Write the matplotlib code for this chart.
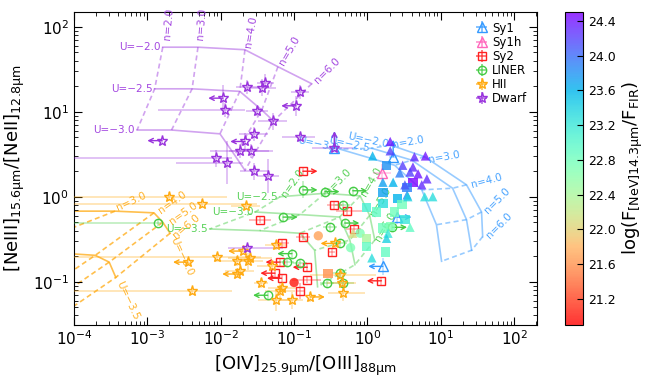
import numpy as np
import matplotlib
matplotlib.use('Agg')
import matplotlib.pyplot as plt
from matplotlib.colors import to_rgba

# ---- photoionisation model grids (log10 of line ratios), rows = U, columns = n
n_names = ['2.0', '3.0', '4.0', '5.0', '6.0']

dwarf_U = ['\u22122.0', '\u22122.5', '\u22123.0']
dwarf_gx = [[-2.79, -2.31, -1.67, -1.22, -0.76],
            [-2.90, -2.39, -1.74, -1.44, -1.28],
            [-3.14, -2.67, -2.01, -1.81, -1.67]]
dwarf_gy = [[1.76, 1.76, 1.73, 1.53, 1.33],
            [1.27, 1.27, 1.24, 1.02, 0.89],
            [0.785, 0.785, 0.74, 0.49, 0.31]]

agn_U = ['\u22122.0', '\u22122.5', '\u22123.0']
agn_gx = [[0.305, 0.78, 1.35, 1.555, 1.57],
          [0.06, 0.605, 1.16, 1.35, 1.42],
          [-0.376, 0.37, 0.74, 0.94, 1.01]]
agn_gy = [[0.61, 0.47, 0.14, -0.18, -0.47],
          [0.57, 0.43, 0.10, -0.27, -0.63],
          [0.56, 0.37, 0.08, -0.33, -0.76]]

liner_U = ['\u22122.5', '\u22123.0', '\u22123.5']
liner_gx = [[-1.19, -0.58, -0.10, 0.03, 0.10],
            [-1.53, -0.92, -0.38, -0.24, -0.17],
            [-2.15, -1.47, -0.92, -0.72, -0.68]]
liner_gy = [[0.00, 0.04, 0.01, -0.22, -0.51],
            [-0.18, -0.21, -0.24, -0.51, -0.80],
            [-0.38, -0.40, -0.43, -0.63, -1.06]]

hii_U = ['\u22123.0', '\u22123.5', '\u22124.0']
hii_gx = [[-4.60, -3.44, -2.91, -2.79, -2.69],
          [-5.55, -4.80, -3.71, -3.52, -3.43],
          [-6.37, -5.83, -4.46, -4.33, -4.19]]
hii_gy = [[-0.17, -0.17, -0.19, -0.30, -0.43],
          [-0.62, -0.63, -0.69, -0.77, -0.95],
          [-1.10, -0.98, -1.13, -1.25, -1.40]]

# ---- observed galaxies (log10 ratios, errors in dex, limit flags)
dwarf_x = [-1.645, -1.44, -1.39, -0.92, -1.97, -1.94, -0.975, -1.51, -1.29, -2.80, -1.55,
           -1.67, -1.74, -1.59, -2.06, -1.91, -1.54, -1.36, -0.92, -1.645, -0.45]
dwarf_y = [1.29, 1.28, 1.34, 1.23, 1.16, 1.02, 1.07, 1.01, 0.89, 0.66, 0.74,
           0.65, 0.54, 0.54, 0.45, 0.40, 0.30, 0.24, 0.70, -0.60, 0.57]
dwarf_xlo = [0.15, 0.2, 0.12, 0.12, 0, 0.92, 0, 0.15, 0.2, 0, 0.2, 0, 0.4, 0.3, 2.2, 0.7, 0.2, 0.15, 0.25, 0.25, 0.3]
dwarf_xhi = [0.15, 0.2, 0.12, 0.12, 0, 0.27, 0, 0.15, 0.2, 0, 0.2, 0, 0.4, 0.3, 0.22, 0.22, 0.2, 0.15, 0.2, 0.5, 0.25]
dwarf_ye = [0.08, 0.1, 0.1, 0.08, 0.15, 0.08, 0.12, 0.06, 0.1, 0.03, 0.08, 0.1, 0.08, 0.08, 0.1, 0.25, 0.1, 0.2, 0.05, 0.03, 0]
dwarf_lim = ['', '', '', '', '<', '', '<', '', '', '<', '', '<', '', '', '', '', '', '', '', '', '^']

hii_x = [-2.71, -2.26, -1.66, -2.45, -2.05, -2.39, -1.70, -1.78, -1.63, -1.60, -1.74, -1.78,
         -1.45, -1.30, -1.24, -1.19, -1.16, -1.24, -1.03, -0.78, -0.44, -0.35, -0.34, -0.38]
hii_y = [0.00, -0.08, -0.11, -0.77, -0.71, -1.11, -0.64, -0.76, -0.76, -0.72, -0.87, -0.91,
         -1.02, -0.82, -0.57, -1.11, -1.07, -1.22, -1.22, -1.18, -0.55, -1.02, -1.13, -0.92]
hii_xlo = [1.4, 1.8, 0.2, 0, 2.0, 1.7, 0, 0.3, 0.2, 0.3, 0.2, 0, 0.1, 0.2, 0.15, 0.2, 0.2, 0.25, 0.15, 0, 0, 0.2, 0.2, 0.4]
hii_xhi = [0.8, 0.75, 0.2, 0, 0.6, 0.55, 0, 0.2, 0.2, 0.3, 0.2, 0, 0.1, 0.2, 0.15, 0.2, 0.2, 0.2, 0.15, 0, 0, 0.2, 0.3, 0.5]
hii_ye = [0.05, 0.05, 0.05, 0.05, 0.05, 0.05, 0.05, 0.06, 0.1, 0.06, 0.06, 0.05,
          0.06, 0.06, 0.06, 0.1, 0.06, 0.12, 0.1, 0.06, 0.05, 0.06, 0.1, 0.05]
hii_lim = ['', '', '', '<', '', '', '<', '', '', '', '', '<', '', '', '', '', '', '', '', '>', '<', '', '', '']

sy2_x = [-0.88, -0.45, -0.28, -1.47, -0.88, -0.19, -1.17, -1.19, -0.82, -1.26, -1.17, -0.83, -0.92, -0.49, 0.19]
sy2_y = [0.30, -0.10, -0.17, -0.27, -0.47, -0.38, -0.55, -0.77, -0.83, -0.90, -0.96, -0.98, -1.11, -0.65, -0.99]
sy2_xlo = [0, 0.1, 0.15, 0.15, 0.1, 0.1, 0.1, 0, 0, 0, 0, 0.2, 0.05, 0.05, 0]
sy2_xhi = [0, 0.1, 0.2, 0.15, 0.1, 0.1, 0.1, 0, 0, 0, 0, 0.2, 0.05, 0.05, 0]
sy2_ye = [0.04, 0.05, 0.05, 0.04, 0.04, 0.04, 0.04, 0.04, 0.04, 0.04, 0.04, 0.04, 0.1, 0.05, 0.05]
sy2_lim = ['>', '', '', '', '', '', '', '<', '<', '<', '<', '', '', '', '<']

liner_x = [-0.88, -0.58, -0.20, -1.15, -2.86, -0.51, -0.34, -0.31, 0.34, -1.03, -1.10, -0.92, -0.38, -0.55, -0.38, -0.34, -1.36]
liner_y = [0.08, 0.06, 0.07, -0.24, -0.31, -0.36, -0.10, -0.31, -0.36, -0.67, -0.77, -0.78, -0.55, -1.02, -0.90, -1.02, -1.16]
liner_xlo = [0, 0, 0, 0, 1.3, 0.1, 0.1, 0, 0, 0, 0.1, 0.1, 0.1, 0.1, 0.1, 0.15, 0]
liner_xhi = [0, 0, 0, 0, 0.05, 0.1, 0.1, 0, 0, 0, 0.1, 0.1, 0.1, 0.1, 0.1, 0.15, 0]
liner_ye = [0.1, 0.05, 0.05, 0.05, 0.03, 0.05, 0.05, 0.05, 0.05, 0.05, 0.05, 0.05, 0.05, 0.05, 0.05, 0.05, 0.05]
liner_lim = ['>', '>', '>', '>', '', '', '', '>', '>', '<', '', '', '', '', '', '', '<']

sy1_x = [0.35, 0.40, 0.21, -0.45]
sy1_y = [0.47, -0.24, -0.82, 0.57]
sy1_xlo = [0.05, 0, 0, 0.1]
sy1_xhi = [0.05, 0, 0, 0.1]
sy1_ye = [0, 0.08, 0.1, 0]
sy1_lim = ['^', '>', '<', '^']

sy1h_x = [0.20]
sy1h_y = [0.28]
sy1h_xlo = [0.12]
sy1h_xhi = [0.12]
sy1h_ye = [0.1]
sy1h_lim = ['']

# objects with [NeV] detections, coloured by log(F_[NeV]/F_FIR)
nev_mk = ['^', '^', '^', '^', '^', '^', '^', '^', '^', '^', '^', 's', 's', 's', '^', '^', '^', '^',
          '^', 's', 's', 's', '^', '^', '^', 's', 's', 's', 's', 's', '^', 's', 's', '^', '^',
          's', '^', 'o', 's', 's', '^', 'o', 's', 'o', 'o']
nev_x = [0.31, 0.31, 0.64, 0.79, 0.48, 0.62, 0.58, 0.69, 0.81, 0.51, 0.74, 0.62, 0.54, 0.26, 0.44, 0.21, 0.35, 0.07,
         0.54, 0.21, 0.21, 0.41, 0.55, 0.78, 0.89, 0.47, 0.37, -0.01, 0.12, 0.51, 0.58, 0.21, 0.31, 0.28, 0.26,
         -0.01, -0.20, -0.10, -0.01, 0.25, 0.06, -0.23, -0.54, -0.67, -1.00]
nev_y = [0.65, 0.54, 0.47, 0.48, 0.37, 0.35, 0.29, 0.27, 0.21, 0.14, 0.14, 0.17, 0.11, 0.37, 0.28, 0.17, 0.17, 0.48,
         0.02, 0.05, -0.08, -0.02, 0.00, 0.00, 0.00, -0.09, -0.18, -0.13, -0.18, -0.27, -0.36, -0.37, -0.35, -0.43, -0.49,
         -0.49, -0.43, -0.43, -0.59, -0.65, -0.72, -0.60, -0.90, -0.46, -1.01]
nev_val = [24.4, 24.2, 24.3, 24.4, 24.2, 24.3, 24.2, 24.4, 24.3, 24.1, 24.3, 24.5, 23.9, 23.8, 23.9, 23.7, 23.6, 23.6,
           23.8, 23.7, 23.3, 23.6, 23.4, 23.3, 23.3, 22.8, 22.8, 23.1, 22.9, 23.2, 22.9, 22.8, 22.7, 23.2, 23.4,
           22.4, 22.1, 22.7, 22.9, 22.9, 23.3, 22.7, 21.6, 21.7, 21.0]

col_sy1 = '#3399ff'
col_sy1h = '#ff66bb'
col_sy2 = '#ff2222'
col_liner = '#44cc44'
col_hii = '#ffaa11'
col_dwarf = '#9933dd'


def draw_grid(ax, gx, gy, color, u_names, u_col, u_ha, u_off, u_rot, n_off, n_rot, alpha):
    gx = 10.0 ** np.array(gx)
    gy = 10.0 ** np.array(gy)
    xmin = ax.get_xlim()[0]
    for i in range(gx.shape[0]):
        ax.plot(gx[i], gy[i], '-', color=color, alpha=alpha, lw=1.2, zorder=1)
    for j in range(gx.shape[1]):
        ax.plot(gx[:, j], gy[:, j], '--', dashes=(3, 2), color=color, alpha=alpha, lw=1.2, zorder=1)
    for i in range(len(u_names)):
        if gx[i, u_col] < xmin:
            continue
        ax.annotate('U=' + u_names[i], xy=(gx[i, u_col], gy[i, u_col]), xytext=u_off,
                    textcoords='offset pixels', ha=u_ha, va='center', rotation=u_rot,
                    rotation_mode='anchor', color=color, fontsize=7.5, alpha=0.9)
    for j in range(len(n_names)):
        if gx[0, j] < xmin:
            continue
        ax.annotate('n=' + n_names[j], xy=(gx[0, j], gy[0, j]), xytext=n_off[j],
                    textcoords='offset pixels', ha='left', va='center', rotation=n_rot[j],
                    rotation_mode='anchor', color=color, fontsize=7.5, alpha=0.9)


def draw_points(ax, lx, ly, xlo, xhi, ye, lim, color, marker, ms, label):
    ecol = to_rgba(color, 0.35)
    for i in range(len(lx)):
        x, y = 10.0 ** lx[i], 10.0 ** ly[i]
        xerr = [[x - 10 ** (lx[i] - xlo[i])], [10 ** (lx[i] + xhi[i]) - x]]
        yerr = [[y - 10 ** (ly[i] - ye[i])], [10 ** (ly[i] + ye[i]) - y]]
        ax.errorbar([x], [y], xerr=xerr, yerr=yerr, fmt=marker, mfc='none', mec=color,
                    ms=ms, mew=1.0, ecolor=ecol, elinewidth=1.2, capsize=0, zorder=3)
        if lim[i]:
            dx, dy = {'<': (-0.2, 0), '>': (0.2, 0), '^': (0, 0.2)}[lim[i]]
            ax.annotate('', xy=(10 ** (lx[i] + dx), 10 ** (ly[i] + dy)), xytext=(x, y),
                        arrowprops=dict(arrowstyle='->', color=color, lw=1.0,
                                        shrinkA=0, shrinkB=0, mutation_scale=8), zorder=3)
    ax.errorbar([np.nan], [np.nan], xerr=[1], yerr=[1], fmt=marker, mfc='none', mec=color,
                ms=ms, mew=1.0, ecolor=to_rgba(color, 0.7), elinewidth=1.2, capsize=0, label=label)


fig = plt.figure(figsize=(6.64, 3.90), dpi=100)
ax = fig.add_axes([0.1114, 0.167, 0.697, 0.802])
cax = fig.add_axes([0.851, 0.167, 0.027, 0.802])

ax.set_xscale('log')
ax.set_yscale('log')
ax.set_xlim(1e-4, 203)
ax.set_ylim(0.031, 149)

draw_grid(ax, dwarf_gx, dwarf_gy, col_dwarf, dwarf_U, 0, 'right', (-2, 0), 0,
          [(4, 7), (2, 7), (3, 2), (3, 2), (4, 2)], [85, 85, 80, 60, 45], 0.45)
draw_grid(ax, agn_gx, agn_gy, col_sy1, agn_U, 0, 'right', (-2, 0), -12,
          [(3, 0), (4, -3), (5, 0), (4, 0), (5, 0)], [10, 10, 15, 45, 45], 0.5)
draw_grid(ax, liner_gx, liner_gy, col_liner, liner_U, 0, 'right', (-2, 0), 0,
          [(3, 0), (2, 0), (3, 0), (3, 0), (3, 0)], [55, 45, 60, 60, 60], 0.45)
draw_grid(ax, hii_gx, hii_gy, col_hii, hii_U, 4, 'left', (3, -4), -65,
          [(2, 3), (2, 3), (5, 1), (8, 0), (4, -3)], [25, 25, 35, 35, 40], 0.75)

draw_points(ax, sy1_x, sy1_y, sy1_xlo, sy1_xhi, sy1_ye, sy1_lim, col_sy1, '^', 6.5, 'Sy1')
draw_points(ax, sy1h_x, sy1h_y, sy1h_xlo, sy1h_xhi, sy1h_ye, sy1h_lim, col_sy1h, '^', 6.5, 'Sy1h')
draw_points(ax, sy2_x, sy2_y, sy2_xlo, sy2_xhi, sy2_ye, sy2_lim, col_sy2, 's', 6, 'Sy2')
draw_points(ax, liner_x, liner_y, liner_xlo, liner_xhi, liner_ye, liner_lim, col_liner, 'o', 6, 'LINER')
draw_points(ax, hii_x, hii_y, hii_xlo, hii_xhi, hii_ye, hii_lim, col_hii, '*', 8, 'HII')
draw_points(ax, dwarf_x, dwarf_y, dwarf_xlo, dwarf_xhi, dwarf_ye, dwarf_lim, col_dwarf, '*', 8, 'Dwarf')

nev_mk = np.array(nev_mk)
nx = 10.0 ** np.array(nev_x)
ny = 10.0 ** np.array(nev_y)
nv = np.array(nev_val)
sc = None
for m in ['o', 's', '^']:
    sel = nev_mk == m
    sc = ax.scatter(nx[sel], ny[sel], c=nv[sel], cmap='rainbow_r', vmin=20.9, vmax=24.5,
                    marker=m, s=45, edgecolors='none', alpha=0.8, zorder=4)

ax.tick_params(which='both', direction='in', top=True, right=True, labelsize=11)
ax.tick_params(which='major', length=6)
ax.tick_params(which='minor', length=3)
ax.set_xlabel(r'[OIV]$_{25.9\mathrm{\mu m}}$/[OIII]$_{88\mathrm{\mu m}}$', fontsize=13)
ax.set_ylabel(r'[NeIII]$_{15.6\mathrm{\mu m}}$/[NeII]$_{12.8\mathrm{\mu m}}$', fontsize=13)

ax.legend(loc='upper right', frameon=False, fontsize=8.5, numpoints=1, handlelength=1.0,
          handletextpad=0.4, labelspacing=0.1, borderaxespad=0.4)

cb = fig.colorbar(sc, cax=cax, ticks=np.arange(21.2, 24.41, 0.4), format='%.1f')
cb.ax.tick_params(labelsize=9, direction='in', length=4)
cb.set_label(r'log(F$_{\mathrm{[NeV]14.3\mu m}}$/F$_{\mathrm{FIR}}$)', fontsize=13)

fig.savefig('out.png', dpi=100)
